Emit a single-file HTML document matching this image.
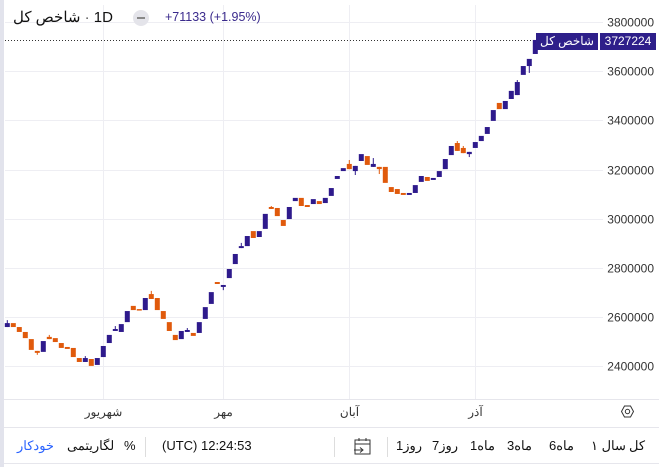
<!DOCTYPE html>
<html><head><meta charset="utf-8">
<style>
html,body{margin:0;padding:0;background:#fff;}
body{width:659px;height:467px;overflow:hidden;position:relative;font-family:"Liberation Sans","Noto Sans CJK SC",sans-serif;}
.abs{position:absolute;white-space:nowrap;}
.ib{display:inline-block;}
</style></head>
<body>
<div class="abs" style="left:0;top:0;width:4px;height:467px;background:#e2e3ec;"></div>
<svg id="chart" width="659" height="467" style="position:absolute;left:0;top:0;" xmlns="http://www.w3.org/2000/svg"></svg>

<div class="abs" style="left:13px;top:8px;font-size:15px;color:#111;direction:ltr;">
<span dir="rtl">شاخص کل</span> <span style="color:#555">·</span> 1D</div>
<div class="abs" style="left:133px;top:10px;width:16px;height:16px;border-radius:8px;background:#e4e4ea;"><div style="position:absolute;left:4px;top:7px;width:8px;height:2px;background:#888;"></div></div>
<div class="abs" style="left:165px;top:10px;font-size:12.5px;color:#3a2a8c;">+71133 (+1.95%)</div>

<div class="abs" style="left:536px;top:33px;width:62px;height:17px;background:#2e1f8a;color:#fff;font-size:12px;line-height:17px;text-align:center;overflow:hidden;" dir="rtl">شاخص کل</div>
<div class="abs" style="left:600px;top:33px;width:56px;height:17px;background:#2e1f8a;color:#fff;font-size:12px;line-height:17px;text-align:center;">3727224</div>

<div class="abs" style="left:621px;top:405px;width:13px;height:13px;">
<svg width="13" height="13" viewBox="0 0 13 13"><polygon points="3.5,1 9.5,1 12.5,6.5 9.5,12 3.5,12 0.5,6.5" fill="none" stroke="#333" stroke-width="1"/><circle cx="6.5" cy="6.5" r="2.2" fill="none" stroke="#333" stroke-width="1"/></svg></div>

<div class="abs" style="left:629px;top:438px;font-size:13px;color:#111;">کل</div>
<div class="abs" style="left:591px;top:438px;font-size:13px;color:#111;"><span class="ib">۱</span> <span class="ib">سال</span></div>
<div class="abs" style="left:549px;top:438px;font-size:13px;color:#111;"><span class="ib">6</span><span class="ib">ماه</span></div>
<div class="abs" style="left:507px;top:438px;font-size:13px;color:#111;"><span class="ib">3</span><span class="ib">ماه</span></div>
<div class="abs" style="left:470px;top:438px;font-size:13px;color:#111;"><span class="ib">1</span><span class="ib">ماه</span></div>
<div class="abs" style="left:432px;top:438px;font-size:13px;color:#111;"><span class="ib">7</span><span class="ib">روز</span></div>
<div class="abs" style="left:396px;top:438px;font-size:13px;color:#111;"><span class="ib">1</span><span class="ib">روز</span></div>
<div class="abs" style="left:387px;top:437px;width:1px;height:20px;background:#ddd;"></div>
<div class="abs" style="left:354px;top:437px;width:17px;height:19px;">
<svg width="17" height="19" viewBox="0 0 17 19"><rect x="1" y="3" width="15" height="14" fill="none" stroke="#333" stroke-width="1"/><line x1="1" y1="7" x2="16" y2="7" stroke="#333"/><line x1="5" y1="1" x2="5" y2="4" stroke="#333"/><line x1="12" y1="1" x2="12" y2="4" stroke="#333"/><line x1="0" y1="13" x2="9" y2="13" stroke="#333"/><polyline points="6,10.5 9,13 6,15.5" fill="none" stroke="#333"/></svg></div>
<div class="abs" style="left:334px;top:437px;width:1px;height:20px;background:#ddd;"></div>
<div class="abs" style="left:162px;top:438px;font-size:13px;color:#111;">(UTC) 12:24:53</div>
<div class="abs" style="left:145px;top:437px;width:1px;height:20px;background:#ddd;"></div>
<div class="abs" style="left:124px;top:438px;font-size:13px;color:#111;">%</div>
<div class="abs" style="left:67px;top:438px;font-size:13px;color:#111;">لگاریتمی</div>
<div class="abs" style="left:17px;top:438px;font-size:13px;color:#2962ff;">خودکار</div>

<script>
const yTicks = [3800000,3600000,3400000,3200000,3000000,2800000,2600000,2400000];
const monthLabels = ["شهریور","مهر","آبان","آذر"];
const monthIndex = [16,36,57,78];
const opens = [2560,2576,2560,2540,2511,2463,2459,2520,2515,2495,2479,2475,2434,2418,2430,2406,2438,2495,2544,2540,2580,2646,2633,2629,2694,2678,2625,2580,2528,2511,2540,2536,2536,2593,2654,2743,2723,2759,2816,2881,2889,2950,2926,2959,3048,3044,2995,2999,3072,3085,3056,3060,3072,3064,3093,3162,3194,3223,3194,3235,3255,3211,3211,3211,3129,3121,3105,3097,3105,3150,3170,3158,3170,3202,3259,3308,3288,3263,3288,3316,3345,3398,3471,3446,3487,3503,3585,3621,3670];
const closes = [2576,2560,2540,2515,2467,2455,2503,2511,2499,2475,2471,2438,2418,2434,2402,2434,2483,2528,2552,2572,2625,2629,2629,2678,2674,2629,2593,2544,2507,2544,2548,2524,2580,2641,2702,2735,2731,2796,2857,2889,2930,2922,2950,3020,3040,3011,2971,3048,3085,3052,3048,3080,3060,3085,3125,3174,3206,3202,3215,3263,3219,3223,3202,3146,3109,3101,3097,3105,3137,3174,3154,3166,3194,3243,3296,3276,3267,3272,3312,3337,3373,3442,3446,3479,3520,3556,3621,3650,3727];
const highs = {0:2588,7:2528,13:2442,18:2564,24:2707,30:2556,39:2902,44:3052,57:3239,61:3247,75:3316,76:3296,85:3564,87:3629};
const lows = {5:2447,36:2710,58:3178,62:3182,77:3251,87:3593};
const lastPrice = 3727224;

const svg = document.getElementById('chart');
const NS = 'http://www.w3.org/2000/svg';
const yScale = v => 22 + (3800000 - v) / 200000 * 49.2;
const xScale = i => 7.3 + i * 6;
function mk(tag, attrs){ const e = document.createElementNS(NS, tag); for (const k in attrs) e.setAttribute(k, attrs[k]); svg.appendChild(e); return e; }

yTicks.forEach(t => {
  const y = Math.round(yScale(t)) + 0.5;
  const g = mk('line', {x1:5, x2:603, y1:y, y2:y, stroke:'#eeeef3', 'stroke-width':1});
  
  
  const tx = mk('text', {x:654, y:y+4, 'text-anchor':'end', 'font-size':12, fill:'#333', 'font-family':'Liberation Sans, sans-serif'});
  tx.textContent = t;
  
  
});
monthIndex.forEach((mi, k) => {
  const x = Math.round(xScale(mi)) + 0.5;
  const g = mk('line', {x1:x, x2:x, y1:5, y2:399, stroke:'#eeeef3', 'stroke-width':1});
  
  
  const tx = mk('text', {x:x, y:416, 'text-anchor':'middle', 'font-size':12, fill:'#333', 'font-family':'Liberation Sans, Noto Sans CJK SC, sans-serif'});
  tx.textContent = monthLabels[k];
  
  
});
const sepA = mk('line', {x1:4, x2:659, y1:399.5, y2:399.5, stroke:'#e6e6ec'});


const sepB = mk('line', {x1:4, x2:659, y1:427.5, y2:427.5, stroke:'#e6e6ec'});


const sepC = mk('line', {x1:4, x2:659, y1:463.5, y2:463.5, stroke:'#e6e6ec'});



const ly = Math.round(yScale(lastPrice)) + 0.5;
const dl = mk('line', {x1:5, x2:536, y1:ly, y2:ly, stroke:'#333', 'stroke-width':1, 'stroke-dasharray':'1,2'});



opens.forEach((o, i) => {
  const c = closes[i];
  const up = c >= o;
  const col = up ? '#2e1a8c' : '#e05a0c';
  const x = xScale(i);
  const top = yScale(Math.max(o, c) * 1000);
  const bot = yScale(Math.min(o, c) * 1000);
  const hi = highs[i] !== undefined ? yScale(highs[i] * 1000) : top;
  const lo = lows[i] !== undefined ? yScale(lows[i] * 1000) : bot;
  if (hi < top - 0.5 || lo > bot + 0.5) {
    const w = mk('line', {x1:x, x2:x, y1:hi, y2:lo, stroke:col, 'stroke-width':1});
    
    
  }
  const r = mk('rect', {x:x-2.5, y:top, width:5, height:Math.max(1.5, bot-top), fill:col});
  
  
});
</script>
</body></html>
